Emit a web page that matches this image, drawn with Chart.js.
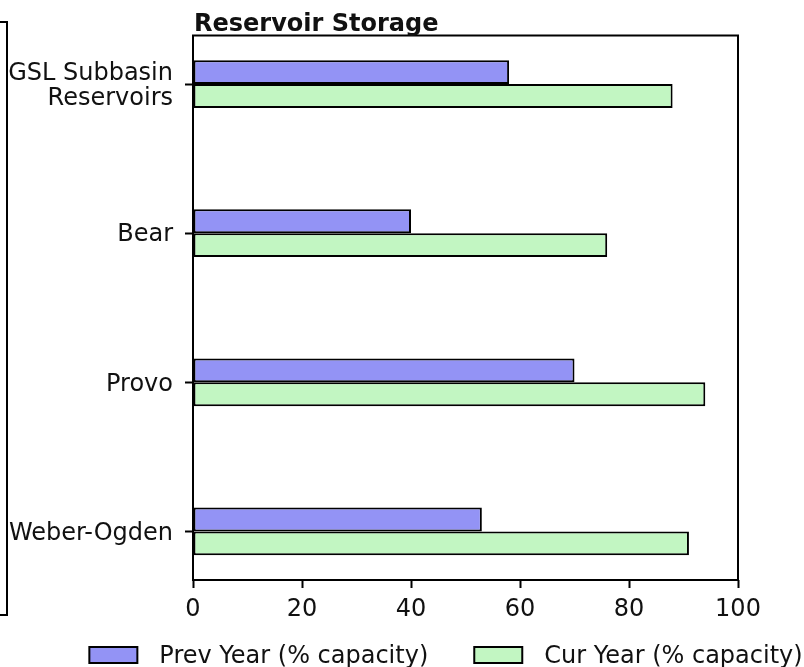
<!DOCTYPE html>
<html>
<head>
<meta charset="utf-8">
<script src="https://cdn.jsdelivr.net/npm/chart.js@4"></script>
<style>
  html, body { margin: 0; padding: 0; background: #fff; }
  canvas { display: block; }
</style>
</head>
<body>
<canvas id="c" width="804" height="667"></canvas>
<script>
// Reservoir storage by basin, percent of capacity
const categories = [['GSL Subbasin', 'Reservoirs'], 'Bear', 'Provo', 'Weber-Ogden'];
const prevYear = [58, 40, 70, 53];
const curYear = [88, 76, 94, 91];
const xTicks = [0, 20, 40, 60, 80, 100];
const seriesNames = ['Prev Year (% capacity)', 'Cur Year (% capacity)'];
const seriesColors = ['#9393f5', '#c2f6c2'];
const titleText = 'Reservoir Storage';

const FONT = '"DejaVu Sans", sans-serif';
const INK = '#111';
const SIZE = 24;

// Frame around the plot, bold title, a bracket at the far left and the legend row
const decorations = {
  id: 'decorations',
  afterDraw(chart) {
    const { ctx, chartArea: a } = chart;
    ctx.save();
    ctx.strokeStyle = '#000';
    ctx.lineWidth = 2;
    ctx.strokeRect(a.left, a.top, a.right - a.left, a.bottom - a.top);

    // bracket on the left edge
    ctx.beginPath();
    ctx.moveTo(0, 22);
    ctx.lineTo(7, 22);
    ctx.lineTo(7, 615);
    ctx.lineTo(0, 615);
    ctx.stroke();

    // title, aligned with the left edge of the plot
    ctx.fillStyle = INK;
    ctx.font = 'bold ' + SIZE + 'px ' + FONT;
    ctx.textAlign = 'left';
    ctx.textBaseline = 'alphabetic';
    ctx.fillText(titleText, a.left + 1, 31);

    // legend
    ctx.font = SIZE + 'px ' + FONT;
    const boxW = 48, boxH = 16, textGap = 22, itemGap = 46, boxTop = 647, baseline = 663;
    const items = chart.data.datasets.map(ds => ({
      label: ds.label, color: ds.backgroundColor,
      w: boxW + textGap + ctx.measureText(ds.label).width
    }));
    const total = items.reduce((s, it) => s + it.w, 0) + itemGap * (items.length - 1);
    let x = 446 - total / 2;
    items.forEach(it => {
      ctx.fillStyle = it.color;
      ctx.fillRect(x, boxTop, boxW, boxH);
      ctx.strokeRect(x, boxTop, boxW, boxH);
      ctx.fillStyle = INK;
      ctx.fillText(it.label, x + boxW + textGap, baseline);
      x += it.w + itemGap;
    });
    ctx.restore();
  }
};

new Chart(document.getElementById('c'), {
  type: 'bar',
  data: {
    datasets: [
      {
        label: seriesNames[0],
        data: prevYear.map((v, i) => ({ x: v, y: i })),
        backgroundColor: seriesColors[0],
        borderColor: '#000',
        borderWidth: 2,
        borderSkipped: false
      },
      {
        label: seriesNames[1],
        data: curYear.map((v, i) => ({ x: v, y: i })),
        backgroundColor: seriesColors[1],
        borderColor: '#000',
        borderWidth: 2,
        borderSkipped: false
      }
    ]
  },
  plugins: [decorations],
  options: {
    indexAxis: 'y',
    responsive: false,
    animation: false,
    devicePixelRatio: 1,
    categoryPercentage: 0.32,
    barPercentage: 1.0,
    layout: { padding: { top: 35.5, right: 66, bottom: 0, left: 0 } },
    plugins: {
      legend: { display: false },
      title: { display: false },
      tooltip: { enabled: false }
    },
    scales: {
      x: {
        type: 'linear',
        min: xTicks[0],
        max: xTicks[xTicks.length - 1],
        afterBuildTicks: s => { s.ticks = xTicks.map(v => ({ value: v })); },
        afterFit: s => { s.height = 87; },
        grid: { drawOnChartArea: false, drawTicks: true, tickLength: 8, tickWidth: 2, tickColor: '#000' },
        border: { display: false },
        ticks: { color: INK, font: { family: FONT, size: SIZE }, padding: 7, maxRotation: 0 }
      },
      y: {
        type: 'linear',
        reverse: true,
        offset: false,
        min: -0.326,
        max: categories.length - 1 + 0.326,
        afterBuildTicks: s => { s.ticks = categories.map((_, i) => ({ value: i })); },
        afterFit: s => { s.width = 193; },
        grid: { offset: false, drawOnChartArea: false, drawTicks: true, tickLength: 8, tickWidth: 2, tickColor: '#000' },
        border: { display: false },
        ticks: {
          color: INK,
          font: { family: FONT, size: SIZE, lineHeight: 1.05 },
          padding: 12,
          labelOffset: 2,
          callback: v => categories[v]
        }
      }
    }
  }
});
</script>
</body>
</html>
